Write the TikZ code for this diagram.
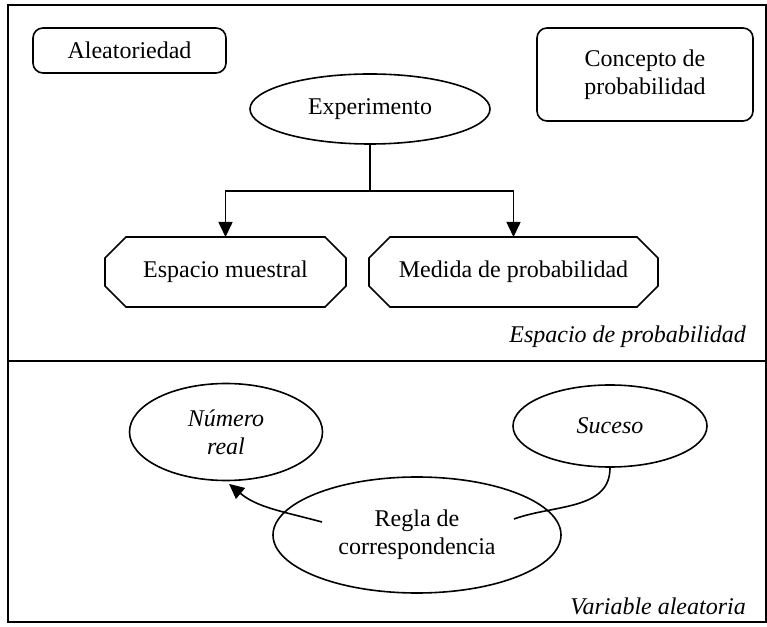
\documentclass[tikz,border=0pt]{standalone}
\usepackage{fontspec}
\setmainfont{Liberation Serif}
\usetikzlibrary{shapes.geometric,arrows.meta}

% octagon outline round a named node
\newcommand{\chamferbox}[1]{%
  \draw[line width=1.6pt] ([xshift=21pt]#1.north west) -- ([xshift=-21pt]#1.north east)
    -- ([yshift=-21pt]#1.north east) -- ([yshift=21pt]#1.south east)
    -- ([xshift=-21pt]#1.south east) -- ([xshift=21pt]#1.south west)
    -- ([yshift=21pt]#1.south west) -- ([yshift=-21pt]#1.north west) -- cycle;}

\begin{document}
\begin{tikzpicture}[x=1pt, y=1pt,
        font=\fontsize{24}{27.6}\selectfont,
        box/.style={rectangle, rounded corners=10pt, draw, line width=1.6pt, inner sep=0pt, align=center},
        oval/.style={ellipse, draw, line width=1.6pt, inner sep=0pt, align=center},
        octa/.style={rectangle, inner sep=0pt, outer sep=0pt, minimum height=70pt},
        tag/.style={anchor=east, inner sep=0pt, font=\fontsize{24}{27.6}\selectfont\itshape},
        arr/.style={-{Triangle[length=15pt, width=14pt]}, line width=1.6pt}]
    \useasboundingbox (0,0) rectangle (767,626);
    \draw[line width=2pt] (8,4) rectangle (766,621);
    \draw[line width=2pt] (8,265) -- (766,265);

    % espacio de probabilidad
    \node (alea) at (129.5,575.5) [box, minimum width=193pt, minimum height=45pt] {Aleatoriedad};
    \node (conc) at (645,551.5) [box, minimum width=216pt, minimum height=93pt] {Concepto de\\probabilidad};
    \node (exp) at (370,517) [oval, minimum width=240pt, minimum height=70pt] {Experimento};
    \node (esp) at (225.5,354) [octa, minimum width=241pt] {Espacio muestral};
    \node (med) at (513.5,354) [octa, minimum width=289pt] {Medida de probabilidad};
    \chamferbox{esp}
    \chamferbox{med}
    \coordinate (split) at (370,435);
    \draw[line width=1.6pt] (exp.south) -- (split);
    \draw[arr] (split) -| (esp.north);
    \draw[arr] (split) -| (med.north);
    \node (ep) at (746,289) [tag] {Espacio de probabilidad};

    % variable aleatoria
    \node (num) at (226,194) [oval, minimum width=193pt, minimum height=97pt] {\itshape Número\\\itshape real};
    \node (suc) at (610,200) [oval, minimum width=194pt, minimum height=82pt] {\itshape Suceso};
    \node (regla) at (417,91) [oval, minimum width=288pt, minimum height=116pt] {Regla de\\correspondencia};
    \coordinate (rl) at (322,104);
    \coordinate (rr) at (514,107);
    \draw[arr, shorten >=4pt] (rl) to[out=165, in=-40] (num.south);
    \draw[line width=1.6pt] (suc.south) to[out=-90, in=20] (rr);
    \node (va) at (746,20) [tag] {Variable aleatoria};
\end{tikzpicture}
\end{document}
